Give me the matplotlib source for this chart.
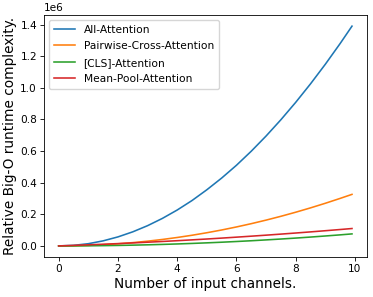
import matplotlib
matplotlib.use("Agg")
import matplotlib.pyplot as plt

# values
channels = [0, 0.5, 1, 1.5, 2, 2.5, 3, 3.5, 4, 4.5, 5, 5.5, 6, 6.5, 7, 7.5, 8, 8.5, 9, 9.5, 9.9]

all_attention = [0, 3500, 14000, 32000, 57000, 89000, 128000, 174000, 227000, 287000, 355000,
                 429000, 510000, 599000, 695000, 798000, 908000, 1025000, 1149000, 1280000, 1390000]
pairwise_cross = [0, 800, 3300, 7500, 13300, 20800, 30000, 40800, 53300, 67400, 83300,
                  100700, 119900, 140700, 163200, 187300, 213100, 240600, 269700, 300500, 326000]
cls_attention = [0, 190, 780, 1740, 3100, 4840, 6980, 9490, 12400, 15700, 19400,
                 23400, 27900, 32700, 38000, 43600, 49600, 56000, 62800, 69900, 76000]
mean_pool = [0, 3300, 6800, 10600, 14600, 18900, 23400, 28100, 33000, 38300, 43700,
             49400, 55400, 61600, 68000, 74700, 81600, 88700, 96100, 103700, 110000]

labels = ["All-Attention", "Pairwise-Cross-Attention", "[CLS]-Attention", "Mean-Pool-Attention"]
series = [all_attention, pairwise_cross, cls_attention, mean_pool]

fig = plt.figure(figsize=(3.73, 2.97), dpi=100)
ax = fig.add_subplot(111)
for vals, lab in zip(series, labels):
    ax.plot(channels, vals, linewidth=1.15, label=lab)

ax.set_xlabel("Number of input channels.", fontsize=9.8, labelpad=2)
ax.set_ylabel("Relative Big-O runtime complexity.", fontsize=9.8, labelpad=2.5)
ax.tick_params(labelsize=7.6, length=3, width=0.6, pad=2)
ax.yaxis.get_offset_text().set_fontsize(7.6)
for s in ax.spines.values():
    s.set_linewidth(0.6)

ax.legend(loc="upper left", fontsize=7.7, handlelength=2.0, borderpad=0.45,
          labelspacing=0.6, borderaxespad=0.45)
fig.subplots_adjust(left=0.118, right=0.983, top=0.949, bottom=0.135)
fig.savefig("out.png", dpi=100)
